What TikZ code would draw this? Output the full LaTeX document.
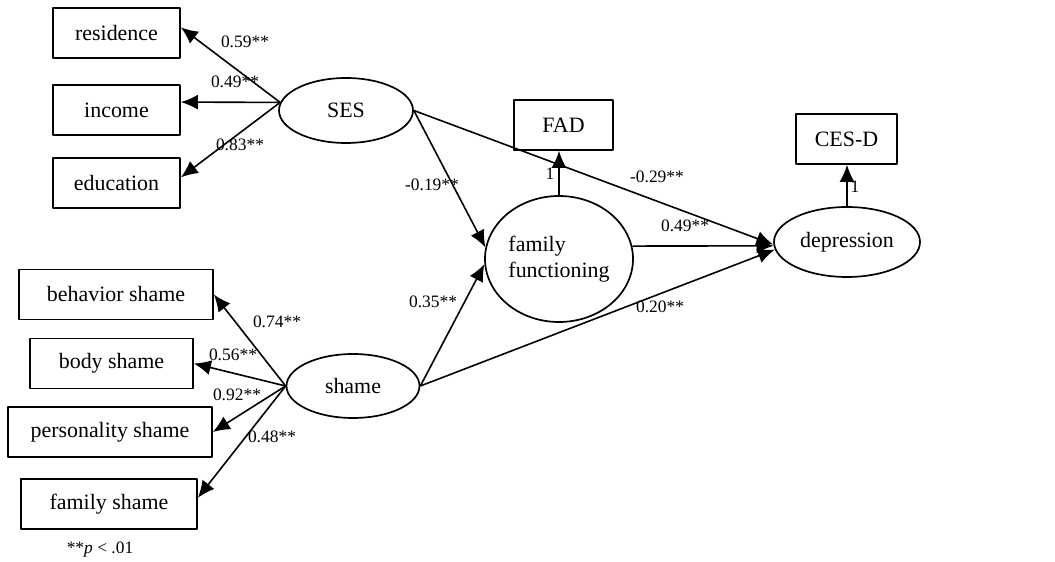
\documentclass[tikz,border=0pt]{standalone}
\usepackage{fontspec}
\setmainfont{Liberation Serif}
\usetikzlibrary{arrows.meta,shapes.geometric}
\begin{document}
\begin{tikzpicture}[>={Latex[length=17bp,width=15bp]},line join=bevel,
  obsvar/.style={draw,line width=1.7bp,minimum height=50bp,inner sep=0pt,font=\fontsize{22}{26}\selectfont},
  latvar/.style={draw,ellipse,line width=1.7bp,inner sep=0pt,font=\fontsize{22}{26}\selectfont},
  path/.style={->,line width=1.6bp},
  coef/.style={font=\fontsize{17.5}{20}\selectfont,inner sep=0pt}]
\useasboundingbox (0bp,0bp) rectangle (1055bp,562bp);
%% indicators of SES
\node (res) at (116.5bp,529bp) [obsvar,minimum width=127bp] {residence};
\node (inc) at (116.5bp,452bp) [obsvar,minimum width=127bp] {income};
\node (edu) at (116.5bp,379bp) [obsvar,minimum width=127bp] {education};
\node (SES) at (346bp,451.5bp) [latvar,minimum width=134bp,minimum height=65bp] {SES};
%% indicators of shame
\node (beh) at (116bp,267.5bp) [obsvar,minimum width=194bp] {behavior shame};
\node (body) at (111.5bp,198.5bp) [obsvar,minimum width=163bp] {body shame};
\node (pers) at (110bp,130bp) [obsvar,minimum width=204bp] {personality shame};
\node (fam) at (109bp,58bp) [obsvar,minimum width=176bp] {family shame};
\node (shame) at (353bp,176bp) [latvar,minimum width=133bp,minimum height=64bp] {shame};
%% mediator and outcome
\node (FF) at (559bp,303bp) [latvar,minimum width=148bp,minimum height=126bp,align=left] {family\\functioning};
\node (FAD) at (563.5bp,437bp) [obsvar,minimum width=99bp] {FAD};
\node (depr) at (847bp,320bp) [latvar,minimum width=146bp,minimum height=70bp] {depression};
\node (CESD) at (846.5bp,423bp) [obsvar,minimum width=101bp] {CES-D};
%
\draw [path] (SES.173) -- (res.5);
\draw [path] (SES.173) -- (inc.7);
\draw [path] (SES.173) -- (edu.5);
\draw [path] (shame.west) -- (beh.east);
\draw [path] (shame.west) -- (body.east);
\draw [path] (shame.west) -- (pers.east);
\draw [path] (shame.west) -- (fam.4);
\draw [path] (FF.north) -- (FF.north |- FAD.south);
\draw [path] (depr.north) -- (depr.north |- CESD.south);
\draw [path] (SES.east) -- (FF.171);
\draw [path] (SES.east) -- (depr.182);
\draw [path] (shame.east) -- (FF.184);
\draw [path] (shame.east) -- (depr.186);
\draw [path] (FF.10) -- (depr.183);
%% coefficients
\node (c_res) at (245bp,520bp) [coef] {0.59**};
\node (c_inc) at (235bp,480bp) [coef] {0.49**};
\node (c_edu) at (240bp,417bp) [coef] {0.83**};
\node (c_beh) at (277bp,240bp) [coef] {0.74**};
\node (c_body) at (233bp,207bp) [coef] {0.56**};
\node (c_pers) at (237bp,167bp) [coef] {0.92**};
\node (c_fam) at (272bp,125bp) [coef] {0.48**};
\node (c_fad) at (550bp,388bp) [coef] {1};
\node (c_cesd) at (855bp,375bp) [coef] {1};
\node (c_sesd) at (657bp,385bp) [coef] {-0.29**};
\node (c_sesf) at (432bp,377bp) [coef] {-0.19**};
\node (c_ffd) at (685bp,336bp) [coef] {0.49**};
\node (c_shf) at (433bp,260bp) [coef] {0.35**};
\node (c_shd) at (660bp,255bp) [coef] {0.20**};
\node (note) at (100bp,12bp) [coef] {**\textit{p} < .01};
%
\end{tikzpicture}
\end{document}
